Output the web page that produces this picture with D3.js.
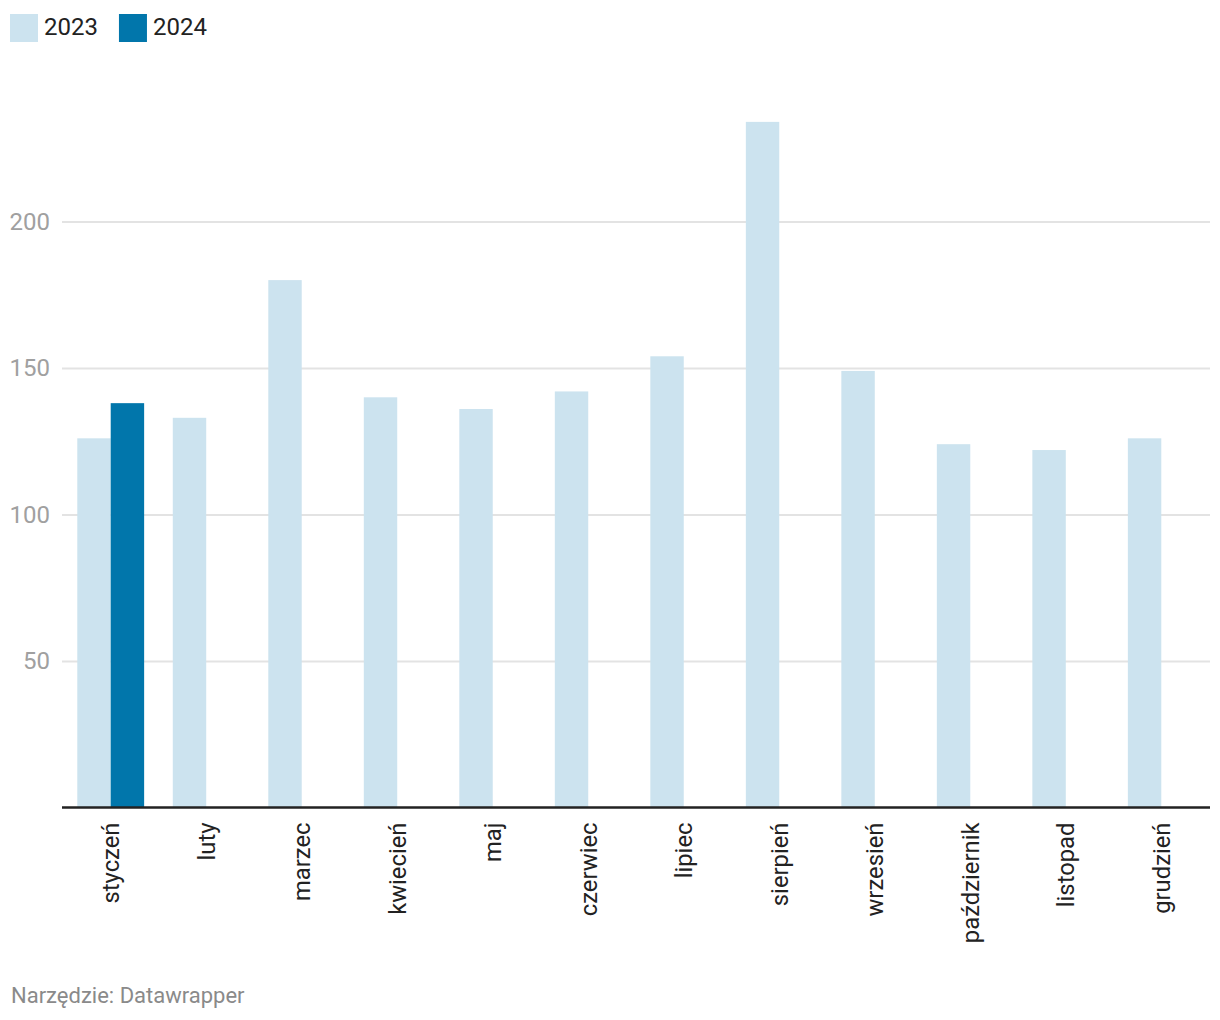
<!DOCTYPE html>
<html><head><meta charset="utf-8">
<script src="https://cdn.jsdelivr.net/npm/d3@7"></script>
<style>
body{margin:0;background:#fff;font-family:Roboto,"Noto Sans",sans-serif;}
svg{display:block;}
</style></head>
<body>
<svg id="c" width="1220" height="1020"></svg>
<script>
const months = ["styczeń","luty","marzec","kwiecień","maj","czerwiec","lipiec","sierpień","wrzesień","październik","listopad","grudzień"];
const seriesNames = ["2023","2024"];
const values2023 = [126,133,180,140,136,142,154,234,149,124,122,126];
const values2024 = [138,null,null,null,null,null,null,null,null,null,null,null];
const yTicks = [50,100,150,200];
const colors = ["#cce3ef","#0176ab"];

(function(){
const svg = d3.select("#c");
const mLeft = 62, mRight = 1210, mBottom = 807.5;
const y = d3.scaleLinear().domain([0,200]).range([mBottom, mBottom - 200*2.93]);
const x0 = d3.scaleBand().domain(months).range([mLeft,mRight]).paddingInner(0.3).paddingOuter(0.16);
const x1 = d3.scaleBand().domain(seriesNames).range([0,x0.bandwidth()]);
const cols = [values2023, values2024];

// gridlines + y labels
const yAxis = d3.axisLeft(y).tickValues(yTicks).tickSize(-(mRight-mLeft)).tickPadding(12);
const gy = svg.append("g").attr("transform",`translate(${mLeft},0)`).call(yAxis);
gy.select(".domain").remove();
gy.selectAll(".tick line").attr("stroke","#e3e3e3").attr("stroke-width",2);
gy.selectAll(".tick text").attr("fill","#a0a0a0").attr("font-size",24).attr("font-family","Roboto").attr("x",-12);

// bars
const groups = svg.append("g").selectAll("g").data(months).join("g")
  .attr("transform",d=>`translate(${x0(d)},0)`);
groups.selectAll("rect").data((d,i)=>seriesNames.map((s,k)=>({s,v:cols[k][i],k})).filter(e=>e.v!=null))
  .join("rect")
  .attr("x",e=>x1(e.s)).attr("width",x1.bandwidth())
  .attr("y",e=>y(e.v)).attr("height",e=>y(0)-y(e.v))
  .attr("fill",e=>colors[e.k]);

// x axis
const xAxis = d3.axisBottom(x0).tickSize(0).tickPadding(0);
const gx = svg.append("g").attr("transform",`translate(0,${mBottom})`).call(xAxis);
gx.select(".domain").attr("stroke","#222").attr("stroke-width",2.5).attr("d",`M${mLeft},0H${mRight}`);
gx.selectAll(".tick text")
  .attr("font-size",23.8).attr("font-family","Roboto").attr("fill","#222")
  .attr("transform","rotate(-90)").attr("text-anchor","end")
  .attr("x",-15).attr("y",0).attr("dy","0.35em");

// legend
const lg = svg.append("g");
let lx = 10;
seriesNames.forEach((s,k)=>{
  lg.append("rect").attr("x",lx).attr("y",14).attr("width",28).attr("height",28).attr("fill",colors[k]);
  const t = lg.append("text").attr("x",lx+34).attr("y",35).attr("font-size",24).attr("fill","#222").text(s);
  lx += 34 + t.node().getComputedTextLength() + 21;
});

// footer
svg.append("text").attr("x",11).attr("y",1003).attr("font-size",22).attr("fill","#8a8a8a").text("Narzędzie: Datawrapper");
})();
</script>
</body></html>
